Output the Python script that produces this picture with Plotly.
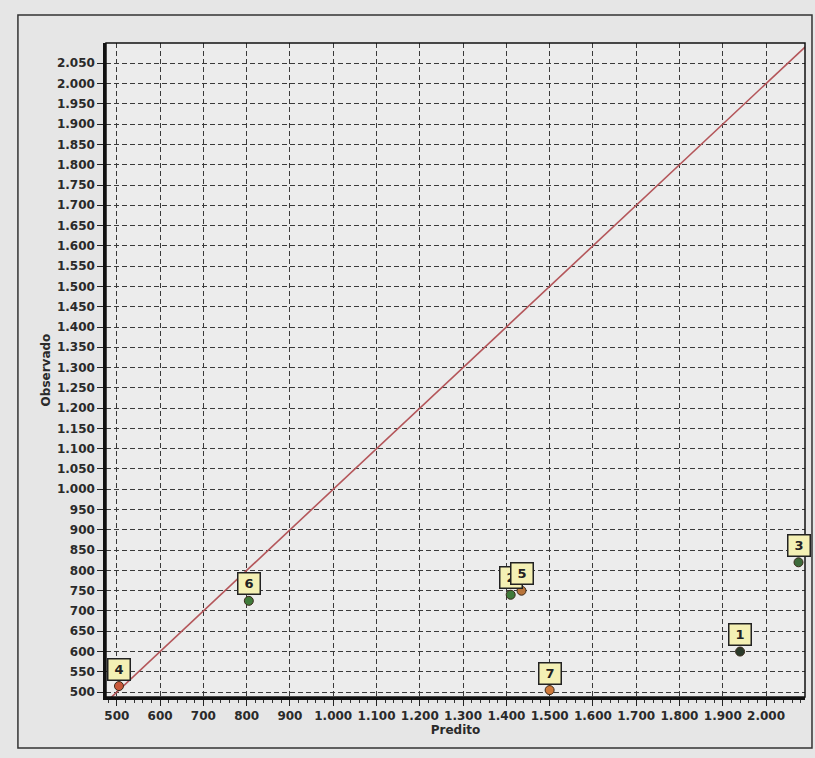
import plotly.graph_objects as go

# Data (predicted vs observed)
labels = ["1", "2", "3", "4", "5", "6", "7"]
predito = [1940, 1410, 2075, 505, 1435, 805, 1500]
observado = [600, 740, 820, 515, 750, 725, 505]
point_colors = ["#2a3a2a", "#3f7a3a", "#3d6a3a", "#c8583a", "#b8743a", "#3f7a3a", "#d07a3a"]

ref_line = [0, 2200]  # y = x reference line
x_ticks = list(range(500, 2001, 100))
y_ticks = list(range(500, 2051, 50))

fig = go.Figure()

fig.add_trace(go.Scatter(
    x=ref_line, y=ref_line, mode="lines",
    line=dict(color="#b4565a", width=1.6),
    hoverinfo="skip", showlegend=False,
))

fig.add_trace(go.Scatter(
    x=predito, y=observado, mode="markers",
    marker=dict(size=9, color=point_colors, line=dict(color="#3a2a1a", width=1)),
    cliponaxis=False, showlegend=False,
))

# label bubbles (draw "2" before "5" so 5 lies on top)
order = [1, 0, 2, 3, 4, 5, 6]
for i in order:
    fig.add_annotation(
        x=predito[i], y=observado[i], xref="x", yref="y",
        text=labels[i], showarrow=False, yshift=17,
        font=dict(family="DejaVu Sans", size=13, color="#222", weight="bold"),
        bgcolor="#f4f0b4", bordercolor="#222", borderwidth=1.5, borderpad=2,
        width=17, height=16,
    )

axis_font = dict(family="DejaVu Sans", size=12, color="#2a2a2a", weight="bold")
title_font = dict(family="DejaVu Sans", size=12, color="#2a2a2a", weight="bold")

fig.update_xaxes(
    range=[475, 2090], tickvals=x_ticks, tickformat=",d",
    showgrid=True, gridcolor="#3a3a3a", gridwidth=1, griddash="5px,3px",
    showline=True, linecolor="#111", linewidth=2.5,
    ticks="outside", ticklen=6, tickcolor="#222",
    minor=dict(dtick=20, tick0=500, ticks="outside", ticklen=3, tickcolor="#333", showgrid=False),
    tickfont=axis_font, zeroline=False, automargin=False,
    title=dict(text="Predito", font=title_font, standoff=4),
)
fig.update_yaxes(
    range=[488, 2100], tickvals=y_ticks, tickformat=",d",
    showgrid=True, gridcolor="#3a3a3a", gridwidth=1, griddash="5px,3px",
    showline=True, linecolor="#111", linewidth=2.5,
    ticks="outside", ticklen=6, tickcolor="#222",
    tickfont=axis_font, zeroline=False, automargin=False,
    title=dict(text="Observado", font=title_font, standoff=4),
)

fig.update_layout(
    width=815, height=758,
    margin=dict(l=106, r=10, t=43, b=61),
    paper_bgcolor="#e6e6e6", plot_bgcolor="#ececec",
    separators=",.",
    shapes=[
        dict(type="rect", xref="x domain", yref="y domain", x0=0, x1=1, y0=0, y1=1,
             line=dict(color="#111", width=1.5), layer="above"),
        dict(type="rect", xref="paper", yref="paper", x0=-0.126, x1=1.01, y0=-0.078, y1=1.043,
             line=dict(color="#333", width=1.5), layer="below"),
    ],
)

fig.write_html("out.html", config={"displayModeBar": False},
               post_script="document.body.style.margin='0';")
